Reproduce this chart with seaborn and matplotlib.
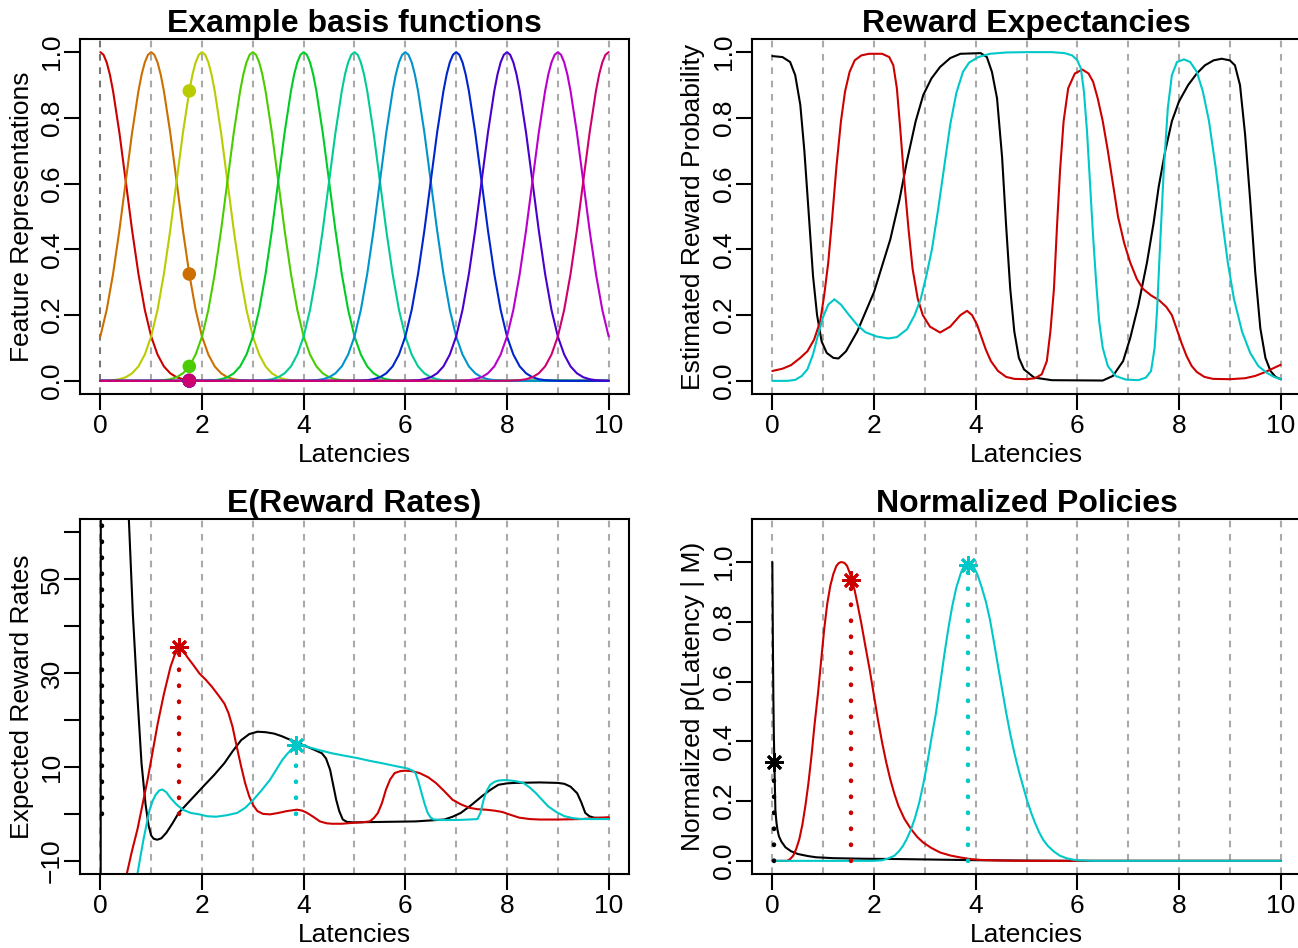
import numpy as np
import pandas as pd
import seaborn as sns
import matplotlib.pyplot as plt

# ---- data ----
latency_ticks = [0, 2, 4, 6, 8, 10]
grid_latencies = [0, 1, 2, 3, 4, 5, 6, 7, 8, 9, 10]

# example basis functions: centres, colours and one bump profile (offset, height)
basis_centers = [0, 1, 2, 3, 4, 5, 6, 7, 8, 9, 10]
basis_colors = ['#CC0000', '#CC6F00', '#B9CC00', '#4ACC00', '#00CC25', '#00CC94',
                '#0094CC', '#0025CC', '#4A00CC', '#B900CC', '#CC006F']
bump_offsets = [0.0, 0.0625, 0.125, 0.1875, 0.25, 0.375, 0.5, 0.625, 0.75, 0.875, 1.0,
                1.125, 1.25, 1.375, 1.5, 1.625, 1.75, 1.875, 2.0, 2.25, 2.5]
bump_heights = [1.0, 0.992, 0.969, 0.932, 0.882, 0.755, 0.607, 0.458, 0.325, 0.216, 0.135,
                0.080, 0.044, 0.023, 0.011, 0.005, 0.002, 0.001, 0.0003, 0.0, 0.0]
dot_latency = 1.75
dot_values = [0.002, 0.325, 0.882, 0.044, 0.0, 0.0, 0.0, 0.0, 0.0, 0.0, 0.0]

series_names = ['black', 'red', 'cyan']
series_colors = ['black', '#CD0000', '#00C8C8']

# reward expectancies (latency, probability)
expect_black = [(0.0, 0.988), (0.2, 0.985), (0.35, 0.97), (0.45, 0.93), (0.55, 0.84),
                (0.63, 0.70), (0.72, 0.50), (0.80, 0.32), (0.88, 0.20), (0.97, 0.12),
                (1.07, 0.085), (1.2, 0.07), (1.3, 0.068), (1.45, 0.09), (1.67, 0.15),
                (2.0, 0.27), (2.32, 0.43), (2.5, 0.55), (2.65, 0.67), (2.82, 0.79),
                (2.97, 0.87), (3.13, 0.92), (3.3, 0.955), (3.5, 0.982), (3.7, 0.995),
                (4.1, 0.997), (4.22, 0.985), (4.32, 0.94), (4.42, 0.86),
                (4.52, 0.68), (4.6, 0.47), (4.68, 0.28), (4.76, 0.15), (4.85, 0.07),
                (4.95, 0.035), (5.15, 0.01), (5.5, 0.002), (6.5, 0.001), (6.7, 0.015),
                (6.9, 0.06), (7.04, 0.13), (7.2, 0.23), (7.37, 0.36), (7.5, 0.48),
                (7.6, 0.59), (7.73, 0.70), (7.86, 0.79), (8.0, 0.85), (8.18, 0.90),
                (8.35, 0.935), (8.51, 0.96), (8.68, 0.975), (8.84, 0.98), (9.0, 0.975),
                (9.1, 0.96), (9.2, 0.90), (9.3, 0.75), (9.4, 0.55), (9.5, 0.33),
                (9.6, 0.16), (9.7, 0.07), (9.8, 0.03), (9.9, 0.012), (10.0, 0.005)]
expect_red = [(0.0, 0.03), (0.2, 0.037), (0.37, 0.048), (0.55, 0.07), (0.69, 0.09),
              (0.82, 0.125), (0.94, 0.18), (1.02, 0.26), (1.1, 0.36), (1.18, 0.5),
              (1.26, 0.65), (1.35, 0.79), (1.43, 0.88), (1.52, 0.94), (1.62, 0.975),
              (1.75, 0.99), (1.9, 0.995), (2.16, 0.995), (2.3, 0.985), (2.38, 0.96),
              (2.45, 0.89), (2.52, 0.76), (2.6, 0.6), (2.68, 0.46), (2.76, 0.34),
              (2.86, 0.25), (2.96, 0.2), (3.1, 0.165), (3.3, 0.147), (3.5, 0.165),
              (3.7, 0.2), (3.83, 0.213), (3.93, 0.2), (4.03, 0.17), (4.12, 0.13),
              (4.2, 0.095), (4.3, 0.06), (4.44, 0.03), (4.6, 0.012), (4.76, 0.006),
              (5.0, 0.005), (5.17, 0.008), (5.3, 0.02), (5.4, 0.06), (5.47, 0.15),
              (5.54, 0.28), (5.6, 0.47), (5.66, 0.64), (5.73, 0.79), (5.82, 0.89),
              (5.95, 0.935), (6.1, 0.947), (6.22, 0.935), (6.31, 0.91), (6.4, 0.86),
              (6.5, 0.79), (6.6, 0.70), (6.7, 0.6), (6.8, 0.5), (6.92, 0.42),
              (7.04, 0.36), (7.17, 0.31), (7.29, 0.28), (7.45, 0.26), (7.61, 0.245),
              (7.75, 0.225), (7.86, 0.2), (7.95, 0.16), (8.05, 0.115), (8.15, 0.075),
              (8.25, 0.045), (8.35, 0.027), (8.5, 0.012), (8.67, 0.006), (9.0, 0.005),
              (9.3, 0.008), (9.5, 0.015), (9.7, 0.027), (9.85, 0.038), (10.0, 0.049)]
expect_cyan = [(0.0, 0.0), (0.3, 0.0), (0.45, 0.003), (0.58, 0.015), (0.69, 0.035),
               (0.8, 0.08), (0.9, 0.14), (1.0, 0.195), (1.1, 0.232), (1.22, 0.248),
               (1.35, 0.232), (1.51, 0.2), (1.67, 0.17), (1.83, 0.148), (2.05, 0.135),
               (2.28, 0.129), (2.45, 0.133), (2.65, 0.157), (2.8, 0.2), (2.92, 0.25),
               (3.03, 0.32), (3.14, 0.4), (3.26, 0.52), (3.38, 0.65), (3.5, 0.78),
               (3.62, 0.876), (3.75, 0.94), (3.87, 0.968), (4.05, 0.985), (4.28, 0.995),
               (4.6, 0.999), (5.0, 1.0), (5.5, 1.0), (5.75, 0.997), (5.9, 0.99),
               (6.0, 0.975), (6.07, 0.95), (6.13, 0.88), (6.19, 0.76), (6.25, 0.6),
               (6.31, 0.44), (6.37, 0.3), (6.43, 0.18), (6.5, 0.1), (6.6, 0.045),
               (6.75, 0.015), (6.95, 0.004), (7.2, 0.002), (7.35, 0.01), (7.45, 0.03),
               (7.52, 0.1), (7.57, 0.22), (7.63, 0.42), (7.7, 0.64), (7.78, 0.83),
               (7.86, 0.93), (7.96, 0.97), (8.1, 0.978), (8.22, 0.97), (8.35, 0.94),
               (8.47, 0.88), (8.59, 0.79), (8.72, 0.65), (8.84, 0.5), (8.96, 0.36),
               (9.08, 0.25), (9.24, 0.15), (9.4, 0.085), (9.56, 0.045), (9.73, 0.024),
               (9.87, 0.012), (10.0, 0.005)]

# expected reward rates (latency, rate)
rate_black = [(0.0, -300.0), (0.015, 300.0), (0.3, 160.0), (0.5, 78.0), (0.56, 63.0),
              (0.64, 42.5), (0.73, 24.9), (0.81, 10.8), (0.89, 2.0), (0.95, -2.5),
              (1.0, -4.6), (1.05, -5.3), (1.12, -5.5), (1.2, -5.2), (1.3, -4.0),
              (1.42, -2.0), (1.54, 0.2), (1.78, 3.0), (2.03, 5.9), (2.24, 8.3),
              (2.44, 10.8), (2.6, 13.3), (2.77, 15.7), (2.93, 17.0), (3.09, 17.5),
              (3.25, 17.4), (3.42, 17.1), (3.58, 16.5), (3.75, 15.7), (3.91, 15.0),
              (4.07, 14.3), (4.22, 13.6), (4.36, 12.9), (4.44, 11.8), (4.52, 9.4),
              (4.58, 6.2), (4.64, 3.0), (4.7, 0.6), (4.77, -1.2), (4.85, -1.7),
              (4.97, -1.8), (6.2, -1.6), (6.77, -1.2), (6.93, -0.6), (7.09, 0.2),
              (7.3, 1.9), (7.5, 3.7), (7.67, 5.1), (7.83, 6.2), (8.0, 6.5),
              (8.16, 6.6), (8.64, 6.7), (9.0, 6.6), (9.13, 6.4), (9.25, 5.8),
              (9.38, 4.4), (9.46, 2.5), (9.54, 0.2), (9.62, -0.5), (9.71, -0.8),
              (10.0, -0.9)]
rate_red = [(0.4, -21.0), (0.52, -12.8), (0.62, -8.0), (0.73, -3.3), (0.83, 2.0),
            (0.93, 7.3), (1.03, 13.3), (1.13, 19.3), (1.25, 25.5), (1.38, 31.3),
            (1.46, 33.8), (1.55, 35.5), (1.62, 35.0), (1.71, 33.4), (1.83, 31.7),
            (1.95, 29.9), (2.08, 28.5), (2.2, 27.0), (2.32, 25.3), (2.44, 23.5),
            (2.52, 21.5), (2.6, 18.6), (2.68, 14.5), (2.77, 10.1), (2.85, 6.5),
            (2.93, 3.7), (3.01, 1.8), (3.09, 0.6), (3.2, 0.0), (3.34, -0.1),
            (3.5, 0.2), (3.67, 0.6), (3.87, 0.9), (3.97, 0.7), (4.07, 0.2),
            (4.2, -0.7), (4.32, -1.6), (4.45, -2.0), (4.56, -2.1), (4.75, -2.1),
            (4.97, -1.9), (5.15, -1.8), (5.3, -1.6), (5.38, -0.9), (5.46, 0.2),
            (5.54, 2.3), (5.62, 5.2), (5.7, 7.3), (5.79, 8.7), (5.9, 9.1),
            (5.99, 9.2), (6.13, 9.1), (6.28, 8.7), (6.45, 7.8), (6.6, 6.6),
            (6.77, 4.8), (6.93, 3.0), (7.1, 2.0), (7.26, 1.3), (7.42, 1.0),
            (7.58, 0.9), (7.75, 0.7), (7.91, 0.4), (8.07, -0.2), (8.24, -0.8),
            (8.45, -1.1), (8.64, -1.2), (9.0, -1.2), (9.46, -1.1), (10.0, -0.7)]
rate_cyan = [(0.6, -21.0), (0.73, -12.8), (0.79, -9.0), (0.85, -5.4), (0.91, -2.2),
             (0.97, 0.9), (1.03, 2.8), (1.09, 4.1), (1.16, 5.0), (1.22, 5.2),
             (1.3, 4.6), (1.38, 3.4), (1.5, 2.0), (1.62, 0.9), (1.78, 0.2),
             (1.95, -0.1), (2.1, -0.5), (2.28, -0.6), (2.48, -0.3), (2.69, 0.2),
             (2.85, 1.3), (3.01, 3.0), (3.17, 5.0), (3.34, 7.3), (3.46, 9.4),
             (3.58, 11.5), (3.67, 12.7), (3.75, 13.6), (3.84, 14.7), (3.95, 14.5),
             (4.07, 14.3), (4.3, 13.6), (4.56, 12.9), (4.8, 12.4), (5.05, 11.9),
             (5.3, 11.3), (5.54, 10.8), (5.8, 10.2), (6.03, 9.7), (6.13, 9.3),
             (6.2, 8.7), (6.26, 6.8), (6.32, 4.4), (6.38, 2.1), (6.44, 0.2),
             (6.5, -0.8), (6.56, -1.2), (6.7, -1.3), (7.01, -1.3), (7.25, -1.2),
             (7.42, -1.1), (7.48, 0.3), (7.54, 3.0), (7.6, 4.9), (7.67, 6.2),
             (7.75, 6.8), (7.83, 7.1), (7.95, 7.2), (8.08, 7.1), (8.2, 6.9),
             (8.32, 6.6), (8.45, 5.6), (8.57, 4.4), (8.69, 3.0), (8.81, 1.6),
             (8.97, 0.4), (9.13, -0.5), (9.3, -0.9), (9.46, -1.1), (10.0, -1.1)]

# normalized policies (latency, p)
policy_black = [(0.0, 1.0), (0.01, 0.75), (0.02, 0.55), (0.03, 0.42), (0.04, 0.33),
                (0.05, 0.25), (0.06, 0.17), (0.08, 0.13), (0.1, 0.105), (0.13, 0.082),
                (0.18, 0.064), (0.26, 0.045), (0.37, 0.032), (0.5, 0.023), (0.7, 0.016),
                (0.86, 0.012), (1.2, 0.009), (1.8, 0.007), (2.48, 0.006), (3.3, 0.004),
                (4.1, 0.002), (5.0, 0.001), (6.0, 0.0), (10.0, 0.0)]
policy_red = [(0.0, 0.0), (0.29, 0.0), (0.35, 0.006), (0.41, 0.017), (0.47, 0.04),
              (0.53, 0.072), (0.59, 0.12), (0.65, 0.184), (0.71, 0.26), (0.77, 0.351),
              (0.83, 0.455), (0.9, 0.563), (0.96, 0.67), (1.02, 0.775), (1.08, 0.86),
              (1.14, 0.92), (1.2, 0.96), (1.26, 0.987), (1.31, 0.997), (1.36, 1.0),
              (1.42, 0.997), (1.47, 0.987), (1.52, 0.965), (1.56, 0.942), (1.62, 0.905),
              (1.67, 0.864), (1.75, 0.795), (1.83, 0.719), (1.92, 0.635), (2.0, 0.552),
              (2.08, 0.47), (2.16, 0.396), (2.24, 0.33), (2.32, 0.273), (2.4, 0.225),
              (2.48, 0.184), (2.6, 0.14), (2.73, 0.106), (2.85, 0.08), (2.97, 0.061),
              (3.13, 0.043), (3.3, 0.028), (3.5, 0.018), (3.71, 0.011), (3.9, 0.006),
              (4.11, 0.003), (4.5, 0.001), (4.93, 0.0), (10.0, 0.0)]
policy_cyan = [(0.0, 0.0), (2.0, 0.0), (2.16, 0.002), (2.28, 0.008), (2.4, 0.017),
               (2.49, 0.032), (2.57, 0.05), (2.65, 0.075), (2.73, 0.106), (2.81, 0.146),
               (2.89, 0.195), (2.97, 0.257), (3.05, 0.329), (3.13, 0.41), (3.22, 0.496),
               (3.3, 0.59), (3.38, 0.686), (3.46, 0.775), (3.54, 0.853), (3.62, 0.915),
               (3.71, 0.964), (3.77, 0.987), (3.83, 0.998), (3.89, 0.997), (3.95, 0.987),
               (4.03, 0.96), (4.11, 0.92), (4.2, 0.868), (4.28, 0.808), (4.36, 0.732),
               (4.44, 0.652), (4.52, 0.574), (4.6, 0.496), (4.68, 0.425), (4.76, 0.362),
               (4.85, 0.3), (4.93, 0.251), (5.01, 0.203), (5.09, 0.162), (5.17, 0.126),
               (5.25, 0.095), (5.33, 0.07), (5.42, 0.05), (5.54, 0.031), (5.66, 0.017),
               (5.8, 0.008), (5.99, 0.002), (6.3, 0.0), (10.0, 0.0)]

# optimal latencies and their values
opt_latency = [0.03, 1.55, 3.84]
opt_rate = [300.0, 35.5, 14.7]
opt_policy = [0.33, 0.94, 0.99]

# ---- style ----
sns.set_style('ticks', {'axes.edgecolor': 'black', 'xtick.color': 'black',
                        'ytick.color': 'black', 'text.color': 'black',
                        'axes.labelcolor': 'black'})
plt.rcParams['font.family'] = ['Liberation Sans', 'DejaVu Sans']

fig = plt.figure(figsize=(12.98, 9.48), dpi=100)
W, H = 549 / 1298, 355 / 948
ax1 = fig.add_axes([80 / 1298, 1 - 394 / 948, W, H])
ax2 = fig.add_axes([752 / 1298, 1 - 394 / 948, W, H])
ax3 = fig.add_axes([80 / 1298, 1 - 874 / 948, W, H])
ax4 = fig.add_axes([752 / 1298, 1 - 874 / 948, W, H])

LW = 1.5
FS = 19
dotted = (0, (0.1, 3.5))


def style_axes(ax, title, ylabel, yticks, ylabels, ylim, ylab_x, grid0='#AAAAAA'):
    for g in grid_latencies:
        ax.axvline(g, color=grid0 if g == 0 else '#AAAAAA', lw=1.5,
                   ls=(0, (3.2, 3.2)), zorder=0)
    ax.set_xlim(-0.4, 10.4)
    ax.set_ylim(*ylim)
    ax.set_xticks(latency_ticks, [str(t) for t in latency_ticks])
    ax.set_yticks(yticks, ylabels, rotation=90, va='center')
    ax.tick_params(direction='out', length=11.5, width=1.5, labelsize=FS, pad=3)
    ax.tick_params(axis='y', pad=0)
    for s in ax.spines.values():
        s.set_linewidth(1.5)
    ax.set_title(title, fontsize=23, fontweight='bold', pad=0)
    ax.set_xlabel('Latencies', fontsize=FS)
    ax.xaxis.set_label_coords(0.5, -0.172)
    ax.xaxis.label.set_va('center')
    ax.set_ylabel(ylabel, fontsize=FS)
    ax.yaxis.set_label_coords(ylab_x, 0.5)
    ax.yaxis.label.set_va('center')


prob_ticks = [0, 0.2, 0.4, 0.6, 0.8, 1.0]
prob_labels = ['0.0', '0.2', '0.4', '0.6', '0.8', '1.0']

# panel 1: basis functions
for c, col in zip(basis_centers, basis_colors):
    pts = {}
    for o, h in zip(bump_offsets, bump_heights):
        for x in (c - o, c + o):
            if 0 <= x <= 10:
                pts[x] = h
    pts.setdefault(0.0, 0.0)
    pts.setdefault(10.0, 0.0)
    df = pd.DataFrame(sorted(pts.items()), columns=['latency', 'value'])
    sns.lineplot(data=df, x='latency', y='value', color=col, lw=LW, ax=ax1,
                 estimator=None, zorder=2)
sns.scatterplot(x=[dot_latency] * len(dot_values), y=dot_values,
                hue=[str(c) for c in basis_centers], palette=basis_colors,
                s=95, edgecolor='none', legend=False, ax=ax1, zorder=3)
style_axes(ax1, 'Example basis functions', 'Feature Representations',
           prob_ticks, prob_labels, (-0.04, 1.04), -0.1056, grid0='#777777')

# panels 2-4
panels = [
    (ax2, [expect_black, expect_red, expect_cyan]),
    (ax3, [rate_black, rate_red, rate_cyan]),
    (ax4, [policy_black, policy_red, policy_cyan]),
]
for ax, curves in panels:
    for pts, col in zip(curves, series_colors):
        df = pd.DataFrame(pts, columns=['latency', 'value'])
        sns.lineplot(data=df, x='latency', y='value', color=col, lw=LW, ax=ax,
                     estimator=None, zorder=2)

for ax, opt_vals in [(ax3, opt_rate), (ax4, opt_policy)]:
    for x, y, col in zip(opt_latency, opt_vals, series_colors):
        ax.plot([x, x], [0, y], color=col, lw=3.2, ls=dotted,
                dash_capstyle='round', zorder=3)
        ax.plot([x], [y], marker=(8, 2, 0), ms=13, mew=2, color=col,
                ls='none', zorder=4)

style_axes(ax2, 'Reward Expectancies', 'Estimated Reward Probability',
           prob_ticks, prob_labels, (-0.04, 1.04), -0.1075)
rate_ticks = [-10, 0, 10, 20, 30, 40, 50, 60]
rate_labels = ['\u221210', '', '10', '', '30', '', '50', '']
style_axes(ax3, 'E(Reward Rates)', 'Expected Reward Rates',
           rate_ticks, rate_labels, (-12.8, 62.8), -0.1056)
style_axes(ax4, 'Normalized Policies', 'Normalized p(Latency | M)',
           prob_ticks, prob_labels, (-0.044, 1.144), -0.1075)

fig.savefig('out.png', dpi=100)
